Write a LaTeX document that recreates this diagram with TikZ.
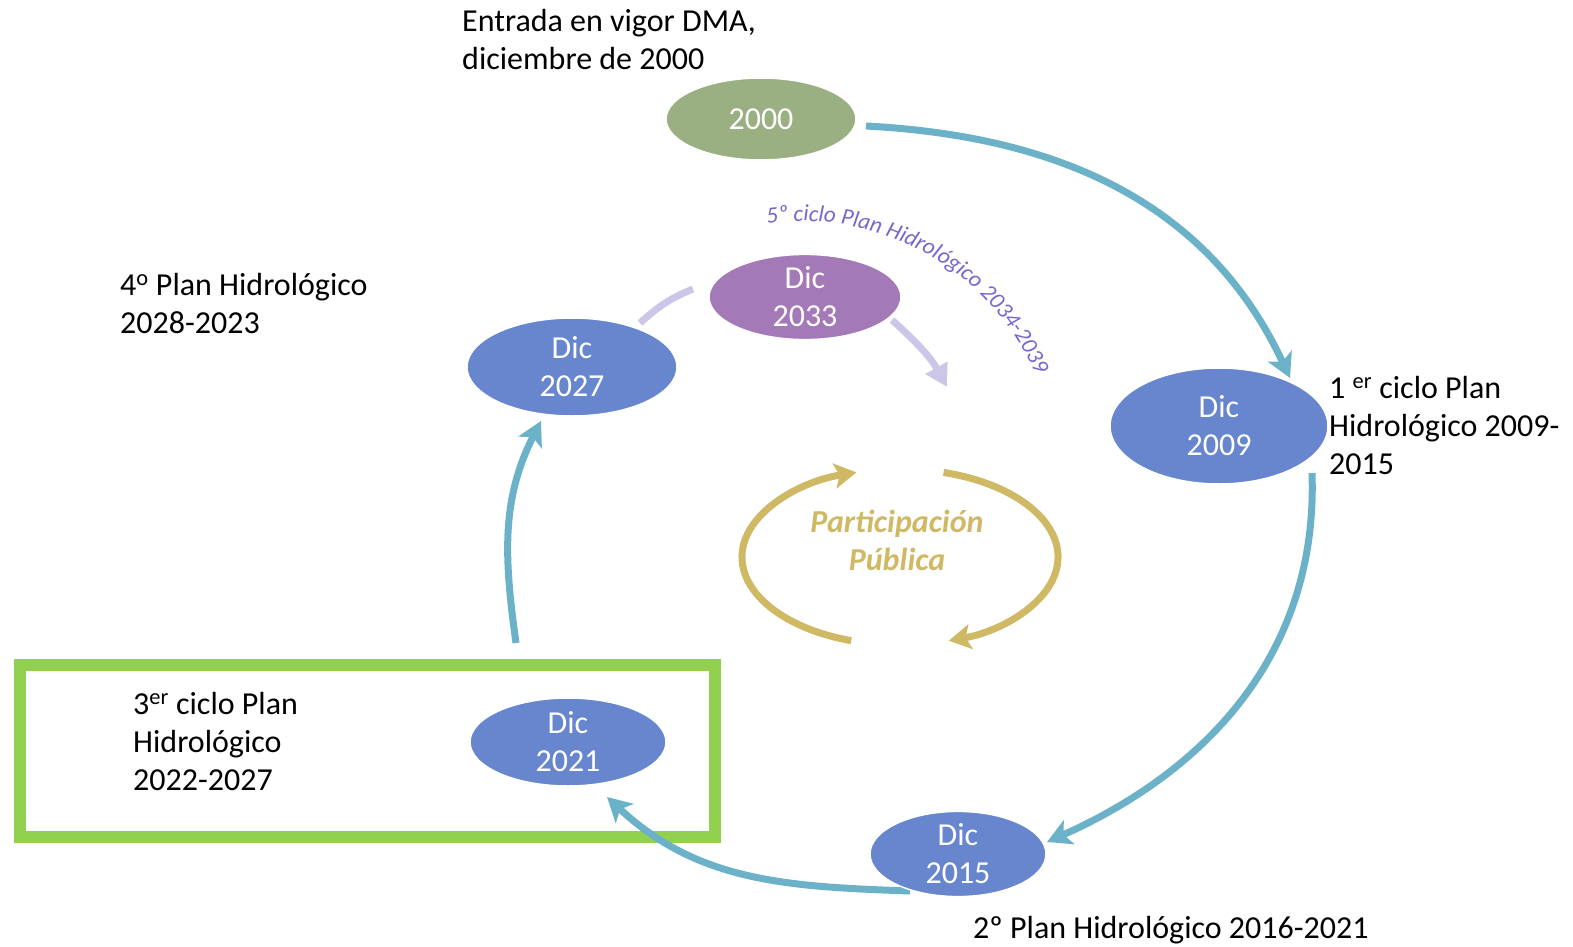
\documentclass[tikz,border=0pt]{standalone}
\usepackage{fontspec}
\setmainfont{Carlito}
\usetikzlibrary{arrows.meta,shapes.geometric,decorations.text,backgrounds}
\definecolor{teal1}{HTML}{6BB2C9}
\definecolor{blueE}{HTML}{6786CE}
\definecolor{greenE}{HTML}{9BB082}
\definecolor{purpleE}{HTML}{A379B7}
\definecolor{lilac}{HTML}{CCC7E8}
\definecolor{arctext}{HTML}{7468CF}
\definecolor{gold}{HTML}{D0B964}
\definecolor{boxgreen}{HTML}{92D050}
\begin{document}
\begin{tikzpicture}[x=1pt,y=1pt,
  big/.style={font=\fontsize{32}{38}\selectfont},
  lbl/.style={big, align=left, anchor=base west, inner sep=0pt, text=black},
  ell/.style={ellipse, draw=white, line width=1.5pt, inner sep=0pt, text=white, align=center, big},
  cyc/.style={teal1, line width=7pt, -{Stealth[length=24pt,width=26pt,inset=6pt]}},
  lil/.style={lilac, line width=7pt},
  gld/.style={gold, line width=7pt, -{Stealth[length=22pt,width=25pt,inset=5pt]}}
]
\useasboundingbox (0,0) rectangle (1573,-947);

% ellipses
\node[ell, fill=greenE,  minimum width=190pt, minimum height=82pt]  (e2000) at (761,-119) {2000};
\node[ell, fill=blueE,   minimum width=218pt, minimum height=116pt] (e2009) at (1219,-426) {Dic\\2009};
\node[ell, fill=blueE,   minimum width=176pt, minimum height=84pt]  (e2015) at (958,-854) {Dic\\2015};
\node[ell, fill=blueE,   minimum width=196pt, minimum height=88pt]  (e2021) at (568,-742) {Dic\\2021};
\node[ell, fill=blueE,   minimum width=210pt, minimum height=98pt]  (e2027) at (572,-367) {Dic\\2027};
\node[ell, fill=purpleE, minimum width=192pt, minimum height=84pt]  (e2033) at (805,-297) {Dic\\2033};

% connector end points
\coordinate (c1s) at (866,-126);  \coordinate (c1e) at (1290,-378);
\coordinate (c2s) at (1312,-473); \coordinate (c2e) at (1047,-842);
\coordinate (c3s) at (910,-891);  \coordinate (c3e) at (607,-797);
\coordinate (c4s) at (516,-643);  \coordinate (c4e) at (541,-421);
\coordinate (l1s) at (640,-323);  \coordinate (l1e) at (693,-289);
\coordinate (l2s) at (892,-320);  \coordinate (l2e) at (947,-387);
\coordinate (gc) at (900,-557);

\begin{scope}[on background layer]
  % highlight frame
  \node[draw=boxgreen, line width=12pt, minimum width=695pt, minimum height=172pt,
        inner sep=0pt, outer sep=0pt, anchor=north west] (hl) at (20,-665) {};
  \draw[cyc] (c1s) to[out=-3,in=115] (c1e);
  \draw[cyc] (c2s) to[out=-88,in=24] (c2e);
  \draw[cyc] (c3s) to[out=178,in=-43] (c3e);
  \draw[cyc] (c4s) to[out=98,in=-117] (c4e);
\end{scope}

% 5th cycle arcs
\draw[lil] (l1s) to[out=42,in=-158] (l1e);
\draw[lil, -{Triangle[length=22pt,width=24pt]}] (l2s) to[out=-42,in=119] (l2e);

\path[decorate, decoration={text along path, text align=center,
  text={|\fontsize{23}{27}\selectfont\itshape\color{arctext}|5º ciclo Plan Hidrológico 2034-2039}}]
  (801,-477) ++(100:256) arc[start angle=100, end angle=21, radius=256];

% public participation
\node[font=\fontsize{32}{38}\selectfont\bfseries\itshape, text=gold, align=center,
      anchor=base, inner sep=0pt] (pp) at (897,-570) {Participación\\Pública};
\draw[gld] ([shift={(252:158 and 88)}]gc) arc[start angle=252, end angle=106, x radius=158, y radius=88];
\draw[gld] ([shift={(74:158 and 88)}]gc) arc[start angle=74, end angle=-72, x radius=158, y radius=88];

% labels (base anchor = baseline of the last line)
\node[lbl] (t2000) at (462,-70) {Entrada en vigor DMA,\\diciembre de 2000};
\node[lbl] (t2009) at (1329,-474) {1 \textsuperscript{er} ciclo Plan\\Hidrológico 2009-\\2015};
\node[lbl] (t2015) at (973,-938) {2º Plan Hidrológico 2016-2021};
\node[lbl] (t2021) at (133,-790) {3\textsuperscript{er} ciclo Plan\\Hidrológico\\2022-2027};
\node[lbl] (t2027) at (120,-333) {4\textsuperscript{o} Plan Hidrológico\\2028-2023};
\end{tikzpicture}
\end{document}
